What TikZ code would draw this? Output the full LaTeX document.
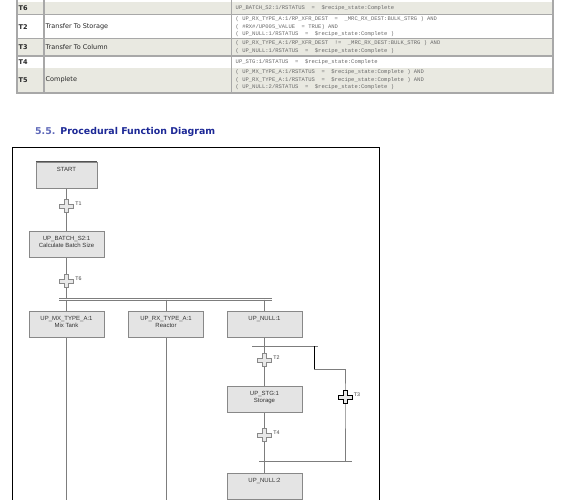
\documentclass[tikz,border=0pt]{standalone}
\usepackage{fontspec}
\setmainfont{DejaVu Sans}
\newfontfamily\boxfont{Liberation Sans}
\newfontfamily\codefont{Liberation Mono}
\usetikzlibrary{backgrounds}
\definecolor{rowgray}{RGB}{233,233,225}
\definecolor{rulegray}{RGB}{168,168,168}
\definecolor{codegray}{RGB}{105,105,105}
\definecolor{headblue}{RGB}{28,40,150}
\definecolor{numblue}{RGB}{95,105,185}
\definecolor{stepfill}{RGB}{228,228,228}
\definecolor{stepline}{RGB}{136,136,136}
\definecolor{wiregray}{RGB}{125,125,125}
\newcommand\steptext[1]{\parbox[c][16pt][t]{58pt}{\centering #1}}
\tikzset{
  cell/.style={anchor=west, inner sep=0pt, font=\fontsize{6.5}{7}\selectfont, text=black!85},
  tid/.style={cell, font=\fontsize{6.5}{7}\selectfont\bfseries},
  code/.style={anchor=west, inner sep=0pt, align=left, font=\codefont\fontsize{5.5}{7.5}\selectfont, text=codegray},
  stepbox/.style={draw=stepline, fill=stepfill, minimum width=75pt, minimum height=26pt, inner sep=0pt,
    font=\boxfont\fontsize{6}{7}\selectfont, text=black!80},
  trans/.style 2 args={minimum width=16pt, minimum height=15pt, inner sep=0pt,
    label={[anchor=south west, inner sep=0.5pt, font=\boxfont\fontsize{5.3}{5}\selectfont, text=black!75]east:#2},
    path picture={\draw[draw=#1, fill=gray!18, line width=0.6pt, shift={(path picture bounding box.center)}]
      (-7pt,-1.8pt) -- (-1.8pt,-1.8pt) -- (-1.8pt,-6.5pt) -- (1.8pt,-6.5pt) -- (1.8pt,-1.8pt) -- (7pt,-1.8pt)
      -- (7pt,1.8pt) -- (1.8pt,1.8pt) -- (1.8pt,6.5pt) -- (-1.8pt,6.5pt) -- (-1.8pt,1.8pt) -- (-7pt,1.8pt) -- cycle;}},
  wire/.style={draw=wiregray, line width=0.6pt},
}
\begin{document}
\begin{tikzpicture}[x=1pt, y=-1pt]
  \useasboundingbox (0,0) rectangle (575,500);
  % condition table
  \fill[rowgray] (17.5,2) rectangle (552,14);
  \fill[rowgray] (17.5,39.3) rectangle (552,55);
  \fill[rowgray] (17.5,68) rectangle (552,92);
  \fill[rulegray] (17.5,14) rectangle (552,15.3);
  \fill[rulegray] (17.5,38) rectangle (552,39.3);
  \fill[rulegray] (17.5,55) rectangle (552,57);
  \fill[rulegray] (16,92) rectangle (554,94);
  \fill[rulegray] (16,0) rectangle (17.5,94);
  \fill[rulegray] (552,0) rectangle (554,94);
  \fill[rulegray] (43,0) rectangle (44.7,94);
  \fill[rulegray] (230.5,0) rectangle (231.8,94);
  \node[tid] (id6) at (18.5,8) {T6};
  \node[tid] (id2) at (18.5,26.7) {T2};
  \node[tid] (id3) at (18.5,47) {T3};
  \node[tid] (id4) at (18.5,62.3) {T4};
  \node[tid] (id5) at (18.5,80) {T5};
  \node[cell] (name2) at (45.5,26.7) {Transfer To Storage};
  \node[cell] (name3) at (45.5,47) {Transfer To Column};
  \node[cell] (name5) at (45.5,80) {Complete};
  \node[code] (cond6) at (235.5,8) {UP\_BATCH\_S2:1/RSTATUS~~=~~\$recipe\_state:Complete};
  \node[code] (cond2) at (235.5,26.7) {(~UP\_RX\_TYPE\_A:1/RP\_XFR\_DEST~~=~~\_MRC\_RX\_DEST:BULK\_STRG~)~AND\\(~\#RX\#/UP005\_VALUE~~=~TRUE)~AND\\(~UP\_NULL:1/RSTATUS~~=~~\$recipe\_state:Complete~)};
  \node[code] (cond3) at (235.5,47) {(~UP\_RX\_TYPE\_A:1/RP\_XFR\_DEST~~!=~~\_MRC\_RX\_DEST:BULK\_STRG~)~AND\\(~UP\_NULL:1/RSTATUS~~=~~\$recipe\_state:Complete~)};
  \node[code] (cond4) at (235.5,62.3) {UP\_STG:1/RSTATUS~~=~~\$recipe\_state:Complete};
  \node[code] (cond5) at (235.5,80) {(~UP\_MX\_TYPE\_A:1/RSTATUS~~=~~\$recipe\_state:Complete~)~AND\\(~UP\_RX\_TYPE\_A:1/RSTATUS~~=~~\$recipe\_state:Complete~)~AND\\(~UP\_NULL:2/RSTATUS~~=~~\$recipe\_state:Complete~)};
  % heading
  \node[anchor=base west, inner sep=0pt, font=\fontsize{9.4}{11}\selectfont\bfseries] (head) at (35,135)
    {\textcolor{numblue}{5.5.}\hspace{5pt}\textcolor{headblue}{Procedural Function Diagram}};
  % frame
  \draw[black, line width=0.8pt] (12,500) -- (12,147) -- (379,147) -- (379,500);
  % steps and transitions
  \node[stepbox, minimum width=61pt] (start) at (66.5,175) {\steptext{START}};
  \draw[stepline!60!black, line width=1.2pt] (start.north west) -- (start.north east);
  \node[trans={stepline}{T1}] (t1) at (66.5,206) {};
  \node[stepbox] (batch) at (66.5,244) {\steptext{UP\_BATCH\_S2:1\\Calculate Batch Size}};
  \node[trans={stepline}{T6}] (t6) at (66.5,281) {};
  \coordinate (barW) at (59,299.5);
  \coordinate (barE) at (272,299.5);
  \node[stepbox] (mx) at (66.5,324) {\steptext{UP\_MX\_TYPE\_A:1\\Mix Tank}};
  \node[stepbox] (rx) at (166,324) {\steptext{UP\_RX\_TYPE\_A:1\\Reactor}};
  \node[stepbox] (null1) at (264.5,324) {\steptext{UP\_NULL:1}};
  \coordinate (divW) at (252,346);
  \coordinate (divE) at (318,346);
  \node[trans={stepline}{T2}] (t2) at (264.5,360) {};
  \node[stepbox] (stg) at (264.5,399) {\steptext{UP\_STG:1\\Storage}};
  \node[trans={stepline}{T4}] (t4) at (264.5,435) {};
  \coordinate (forkT) at (314,346);
  \coordinate (forkB) at (314,369);
  \node[trans={black}{T3}] (t3) at (345,397) {};
  \coordinate (convW) at (259,461);
  \coordinate (convE) at (352,461);
  \node[stepbox] (null2) at (264.5,486) {\steptext{UP\_NULL:2}};
  \coordinate (bottom) at (0,500);
  \begin{scope}[on background layer]
    \draw[wire] (start) -- (t1.center) -- (batch);
    \draw[wire] (batch) -- (t6.center) -- (t6 |- barW);
    \draw[wire, double=white, double distance=1.8pt] (barW) -- (barE);
    \draw[wire] (mx |- barW) -- (mx) (mx) -- (mx |- bottom);
    \draw[wire] (rx |- barW) -- (rx) (rx) -- (rx |- bottom);
    \draw[wire] (null1 |- barW) -- (null1);
    \draw[wire] (null1) -- (t2.center) -- (stg);
    \draw[wire] (stg) -- (t4.center) -- (null2);
    \draw[wire] (null2) -- (null2 |- bottom);
    \draw[wire] (divW) -- (divE);
    \draw[wire] (convW) -- (convE);
    \draw[black, line width=0.7pt] (forkT) -- (forkB);
    \draw[wire] (forkB) -- (forkB -| t3) -- (t3.center) -- (t3 |- convE);
  \end{scope}
\end{tikzpicture}
\end{document}
